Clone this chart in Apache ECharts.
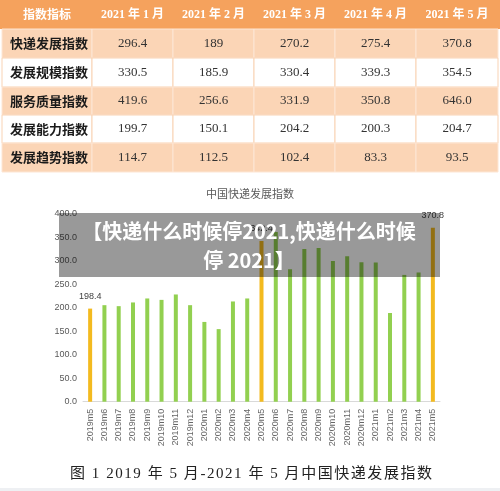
<!DOCTYPE html>
<html><head><meta charset="utf-8">
<script src="https://cdn.jsdelivr.net/npm/echarts@6/dist/echarts.min.js"></script>
<style>html,body{margin:0;padding:0;background:#fff}#c{width:500px;height:491px}</style>
</head><body><div id="c"></div>
<script>
// ---- table data ----
const tableHeader = ['指数指标', '2021 年 1 月', '2021 年 2 月', '2021 年 3 月', '2021 年 4 月', '2021 年 5 月'];
const rowNames = ['快递发展指数', '发展规模指数', '服务质量指数', '发展能力指数', '发展趋势指数'];
const row1 = ['296.4', '189', '270.2', '275.4', '370.8'];
const row2 = ['330.5', '185.9', '330.4', '339.3', '354.5'];
const row3 = ['419.6', '256.6', '331.9', '350.8', '646.0'];
const row4 = ['199.7', '150.1', '204.2', '200.3', '204.7'];
const row5 = ['114.7', '112.5', '102.4', '83.3', '93.5'];
const rowValues = [row1, row2, row3, row4, row5];

// ---- chart data ----
const categories = ['2019m5','2019m6','2019m7','2019m8','2019m9','2019m10','2019m11','2019m12',
  '2020m1','2020m2','2020m3','2020m4','2020m5','2020m6','2020m7','2020m8','2020m9','2020m10','2020m11','2020m12',
  '2021m1','2021m2','2021m3','2021m4','2021m5'];
const values = [198.4, 205.7, 203.6, 211.5, 220.0, 217.0, 228.5, 205.7,
  170.0, 154.7, 213.6, 220.0, 342.4, 361.7, 282.3, 325.5, 327.7, 300.0, 310.0, 297.0,
  296.4, 189.0, 270.2, 275.4, 370.8];
const yTicks = [0, 50, 100, 150, 200, 250, 300, 350, 400];
const chartTitle = '中国快递发展指数';
const caption = '图 1 2019 年 5 月-2021 年 5 月中国快递发展指数';
const bannerLines = ['【快递什么时候停2021,快递什么时候', '停 2021】'];

// ---- layout ----
const colX = [2, 92, 173, 254, 335, 416, 498];
const rowY = [0, 29, 58, 87, 115, 143, 172];
const HEAD = '#F5A25D', PEACH = '#FBD5B6', WHITE = '#FFFFFF';
const serif = '"Liberation Serif","DejaVu Serif","Noto Sans CJK SC",serif';
const cjk = '"Noto Sans CJK SC",sans-serif';

const graphics = [];
// header
graphics.push({type:'rect', shape:{x:0, y:rowY[0], width:500, height:rowY[1]-rowY[0]}, style:{fill:HEAD}, silent:true});
for (let c = 0; c < tableHeader.length; c++) {
  graphics.push({type:'text', x:(colX[c]+colX[c+1])/2, y:(rowY[0]+rowY[1])/2,
    style:{text:tableHeader[c], fill:'#fff', font:'bold 12px ' + (c===0?cjk:serif), textAlign:'center', textVerticalAlign:'middle'}});
}
for (let r = 0; r < rowNames.length; r++) {
  const fill = r % 2 === 0 ? PEACH : WHITE;
  const stroke = r % 2 === 0 ? '#FDE6D4' : '#F9D3B4';
  const y0 = rowY[r+1], y1 = rowY[r+2];
  for (let c = 0; c < 6; c++) {
    graphics.push({type:'rect', shape:{x:colX[c], y:y0, width:colX[c+1]-colX[c], height:y1-y0},
      style:{fill:fill, stroke:stroke, lineWidth:1}, silent:true});
  }
  graphics.push({type:'text', x:colX[0]+8, y:(y0+y1)/2,
    style:{text:rowNames[r], fill:'#1a1a1a', font:'bold 13px '+cjk, textAlign:'left', textVerticalAlign:'middle'}});
  for (let c = 0; c < 5; c++) {
    graphics.push({type:'text', x:(colX[c+1]+colX[c+2])/2, y:(y0+y1)/2,
      style:{text:rowValues[r][c], fill:'#333', font:'13px '+serif, textAlign:'center', textVerticalAlign:'middle'}});
  }
}
// caption, letter-spaced across x 70..432
(function(){
  const font = '15px ' + serif;
  const ctx = document.createElement('canvas').getContext('2d');
  ctx.font = font;
  const chars = Array.from(caption);
  const widths = chars.map(ch => ctx.measureText(ch).width);
  const total = widths.reduce((a,b)=>a+b,0);
  const left = 70, right = 432;
  const gap = (right - left - total) / (chars.length - 1);
  let x = left;
  chars.forEach((ch, i) => {
    graphics.push({type:'text', x:x, y:474, style:{text:ch, fill:'#222', font:font, textAlign:'left', textVerticalAlign:'middle'}});
    x += widths[i] + gap;
  });
})();
// bottom edge
graphics.push({type:'rect', shape:{x:0, y:488, width:500, height:3}, style:{fill:'#EEF0F3'}, silent:true});
// banner
graphics.push({type:'rect', shape:{x:59, y:213, width:381, height:64}, style:{fill:'rgba(0,0,0,0.4)'}, z:100, silent:true});
graphics.push({type:'text', x:249, y:231, z:101, style:{text:bannerLines[0], fill:'#fff', font:'bold 20px '+cjk, textAlign:'center', textVerticalAlign:'middle'}});
graphics.push({type:'text', x:249, y:260, z:101, style:{text:bannerLines[1], fill:'#fff', font:'bold 20px '+cjk, textAlign:'center', textVerticalAlign:'middle'}});

const isHi = c => /m5$/.test(c);
const chart = echarts.init(document.getElementById('c'));
chart.setOption({
  animation:false,
  title:{text:chartTitle, left:'center', top:183, textStyle:{fontSize:11, fontWeight:'normal', color:'#595959', fontFamily:cjk}},
  grid:{left:83, right:60, top:214, bottom:89.3, containLabel:false},
  xAxis:{type:'category', data:categories,
    axisLine:{lineStyle:{color:'#D9D9D9'}}, axisTick:{show:false},
    axisLabel:{rotate:90, fontSize:9, color:'#666', margin:7, interval:0, fontFamily:'"Liberation Sans",sans-serif'}},
  yAxis:{type:'value', min:yTicks[0], max:yTicks[yTicks.length-1], interval:yTicks[1]-yTicks[0],
    splitLine:{show:false}, axisLine:{show:false}, axisTick:{show:false},
    axisLabel:{fontSize:9, color:'#595959', margin:6, formatter:v=>v.toFixed(1), fontFamily:'"Liberation Sans",sans-serif'}},
  series:[{type:'bar', barWidth:4,
    data: values.map((v,i)=>({value:v,
      itemStyle:{color: isHi(categories[i]) ? '#F3BA1F' : '#92D050'},
      label:{show:isHi(categories[i]), position:'top', distance:8, fontSize:9, color:'#404040', formatter:p=>p.value.toFixed(1), fontFamily:'"Liberation Sans",sans-serif'}}))
  }],
  graphic:graphics
});
</script></body></html>
